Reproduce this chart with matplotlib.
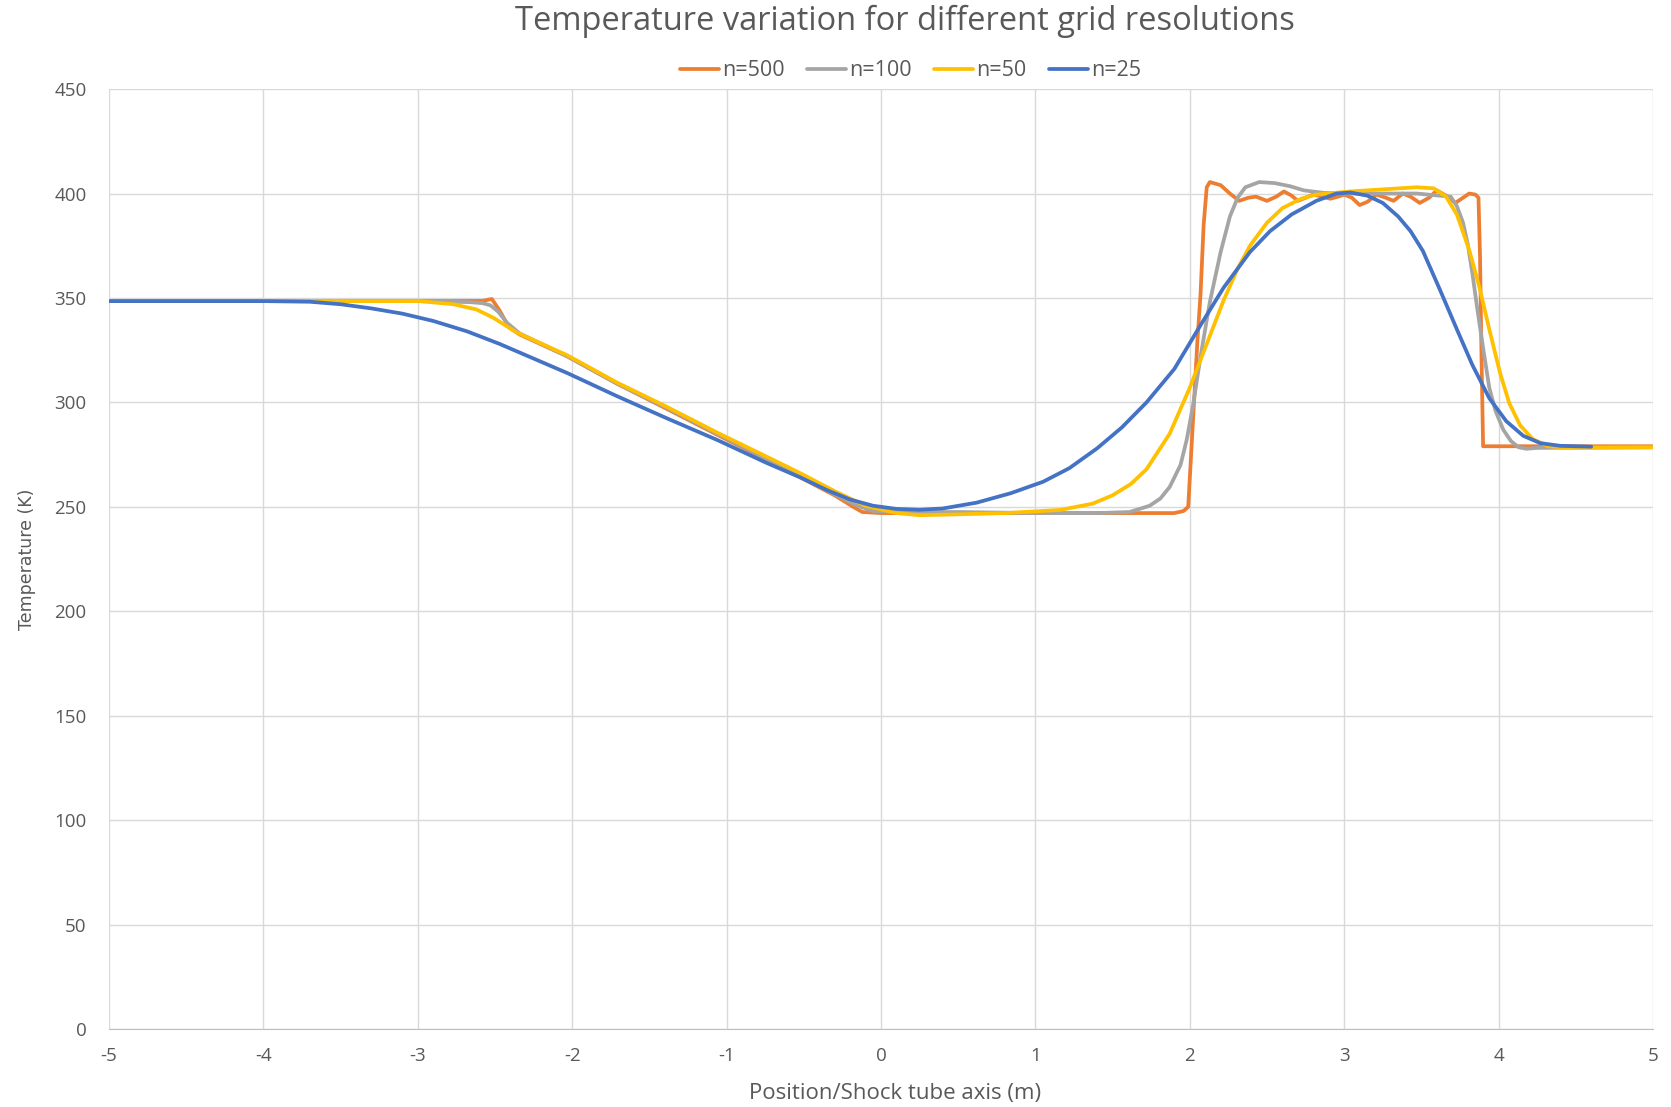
import numpy as np
import matplotlib
matplotlib.use("Agg")
import matplotlib.pyplot as plt

plt.rcParams['font.family'] = ['Open Sans', 'DejaVu Sans']
plt.rcParams['axes.unicode_minus'] = False

# n=500
x500 = [-5.0, -3.0, -2.58, -2.52, -2.47, -2.41, -2.34, -2.03, -1.71, -1.39, -1.06, -0.74,
        -0.52, -0.30, -0.18, -0.12, 0.0, 0.5, 1.0, 1.5, 1.9, 1.96, 1.99, 2.02, 2.05, 2.07,
        2.09, 2.11, 2.13, 2.20, 2.26, 2.32, 2.38, 2.43, 2.50, 2.56, 2.61, 2.66, 2.70, 2.75,
        2.80, 2.86, 2.91, 2.96, 3.00, 3.05, 3.10, 3.15, 3.21, 3.27, 3.32, 3.38, 3.43, 3.49,
        3.55, 3.60, 3.66, 3.72, 3.77, 3.81, 3.85, 3.87, 3.88, 3.89, 3.90, 4.0, 5.0]
t500 = [348.5, 348.5, 348.6, 349.5, 344, 336, 332.5, 322, 309, 297, 284.5, 272.5,
        264, 255.5, 250, 247.5, 247, 247, 247, 247, 247, 248, 250, 290, 330, 352,
        385, 403, 405.5, 404, 400, 396.5, 398, 398.5, 396.5, 398.5, 401, 399, 396.5, 398,
        399.5, 398.5, 397.5, 398.5, 399.5, 398, 394.5, 396, 399.5, 398, 396.5, 400, 398.5, 395.5,
        398, 401.5, 399, 395.5, 398, 400, 399.5, 398, 370, 320, 279, 279, 279]

# n=100
x100 = [-5.0, -3.0, -2.66, -2.58, -2.53, -2.48, -2.42, -2.34, -2.03, -1.71, -1.39, -1.06,
        -0.74, -0.52, -0.30, -0.15, -0.05, 0.10, 0.5, 1.0, 1.4, 1.61, 1.74, 1.81, 1.87,
        1.94, 1.98, 2.02, 2.07, 2.13, 2.20, 2.26, 2.31, 2.36, 2.45, 2.55, 2.65, 2.74, 2.87,
        3.0, 3.25, 3.47, 3.69, 3.73, 3.77, 3.80, 3.83, 3.86, 3.90, 3.94, 3.98, 4.03, 4.08,
        4.13, 4.18, 4.25, 5.0]
t100 = [348.5, 348.5, 348, 347.5, 346.5, 343.5, 338, 333, 322, 309, 297.5, 285,
        273, 264.5, 256, 250.5, 248, 247.5, 247.5, 247, 247, 247.5, 250.5, 254, 259.5,
        270, 282, 298, 322, 348, 372, 389, 398, 403, 405.5, 405, 403.5, 401.5, 400.3,
        400, 400, 400, 398.5, 394, 386, 376, 362, 346, 326, 307, 296, 287, 281.5,
        278.5, 277.8, 278.2, 278.5]

# n=50
x50 = [-5.0, -3.2, -2.99, -2.77, -2.62, -2.51, -2.36, -2.03, -1.71, -1.39, -1.06, -0.74,
       -0.52, -0.30, -0.10, 0.10, 0.25, 0.45, 0.8, 1.16, 1.37, 1.50, 1.62, 1.72, 1.87,
       2.00, 2.11, 2.22, 2.31, 2.39, 2.50, 2.60, 2.72, 2.82, 3.04, 3.25, 3.47, 3.58, 3.66,
       3.73, 3.81, 3.88, 3.94, 4.01, 4.07, 4.14, 4.22, 4.32, 4.45, 5.0]
t50 = [348.5, 348.5, 348.5, 347, 344.5, 340.5, 333.5, 322.5, 309.5, 298, 285.5, 274,
       266, 257.5, 250.5, 247, 246, 246.3, 247, 248.5, 251.5, 255.5, 261, 268, 285,
       307, 328, 349, 364, 375, 386, 393, 397.5, 399.5, 401, 402, 403, 402.5, 398.5,
       390, 373, 354, 335, 314, 299.5, 289, 282.5, 279, 278.3, 278.5]

# n=25
x25 = [-5.0, -4.0, -3.7, -3.5, -3.3, -3.1, -2.9, -2.68, -2.47, -2.25, -2.03, -1.71,
       -1.39, -1.06, -0.74, -0.52, -0.35, -0.20, -0.05, 0.10, 0.25, 0.40, 0.62, 0.84,
       1.05, 1.22, 1.40, 1.56, 1.72, 1.90, 2.07, 2.22, 2.39, 2.52, 2.66, 2.82, 2.95, 3.04,
       3.15, 3.25, 3.35, 3.43, 3.51, 3.62, 3.73, 3.83, 3.94, 4.05, 4.16, 4.27, 4.40, 4.6]
t25 = [348.5, 348.5, 348.2, 347, 345, 342.5, 339, 334, 328, 321, 314, 303,
       292.5, 282, 271, 264, 258, 253.5, 250.5, 249, 248.6, 249.2, 252, 256.5,
       262, 268.5, 278, 288, 300, 316, 337, 355, 372, 382, 390, 396.5, 400, 400.5,
       399, 395.5, 389, 382, 372.5, 354, 335, 318, 302, 291, 284, 280.5, 279.2, 278.8]

labels = ["n=500", "n=100", "n=50", "n=25"]
colors = ["#ED7D31", "#A5A5A5", "#FFC000", "#4472C4"]

fig = plt.figure(figsize=(16.71, 11.07), dpi=100)
ax = fig.add_axes([0.0652, 0.0705, 0.924, 0.849])

for xs, ts, lab, c in zip([x500, x100, x50, x25], [t500, t100, t50, t25], labels, colors):
    ax.plot(xs, ts, color=c, lw=2.7, label=lab, solid_capstyle='round', solid_joinstyle='round')

ax.set_xlim(-5, 5)
ax.set_ylim(0, 450)
ax.set_xticks(np.arange(-5, 6, 1))
ax.set_yticks(np.arange(0, 451, 50))
ax.grid(True, color="#D9D9D9", lw=1)
ax.set_axisbelow(True)
for s in ax.spines.values():
    s.set_visible(False)
ax.spines['bottom'].set_visible(True)
ax.spines['bottom'].set_color("#BFBFBF")
ax.tick_params(length=0, labelsize=13.5, labelcolor="#595959")
ax.tick_params(axis='y', pad=16)
ax.tick_params(axis='x', pad=13)

ax.set_xlabel("Position/Shock tube axis (m)", fontsize=16, color="#595959")
ax.xaxis.set_label_coords(0.509, -0.057)
ax.set_ylabel("Temperature (K)", fontsize=12.5, color="#595959",
              family=['Liberation Sans Narrow', 'DejaVu Sans'])
ax.yaxis.set_label_coords(-0.047, 0.5)

fig.text(0.5416, 0.981, "Temperature variation for different grid resolutions",
         ha='center', va='center', fontsize=23.5, color="#595959")
fig.legend(loc='center', bbox_to_anchor=(0.545, 0.936), ncol=4, frameon=False,
           fontsize=15.5, handlelength=1.8, handletextpad=0.15, columnspacing=1.05,
           labelcolor="#595959")

fig.savefig("out.png", dpi=100)
